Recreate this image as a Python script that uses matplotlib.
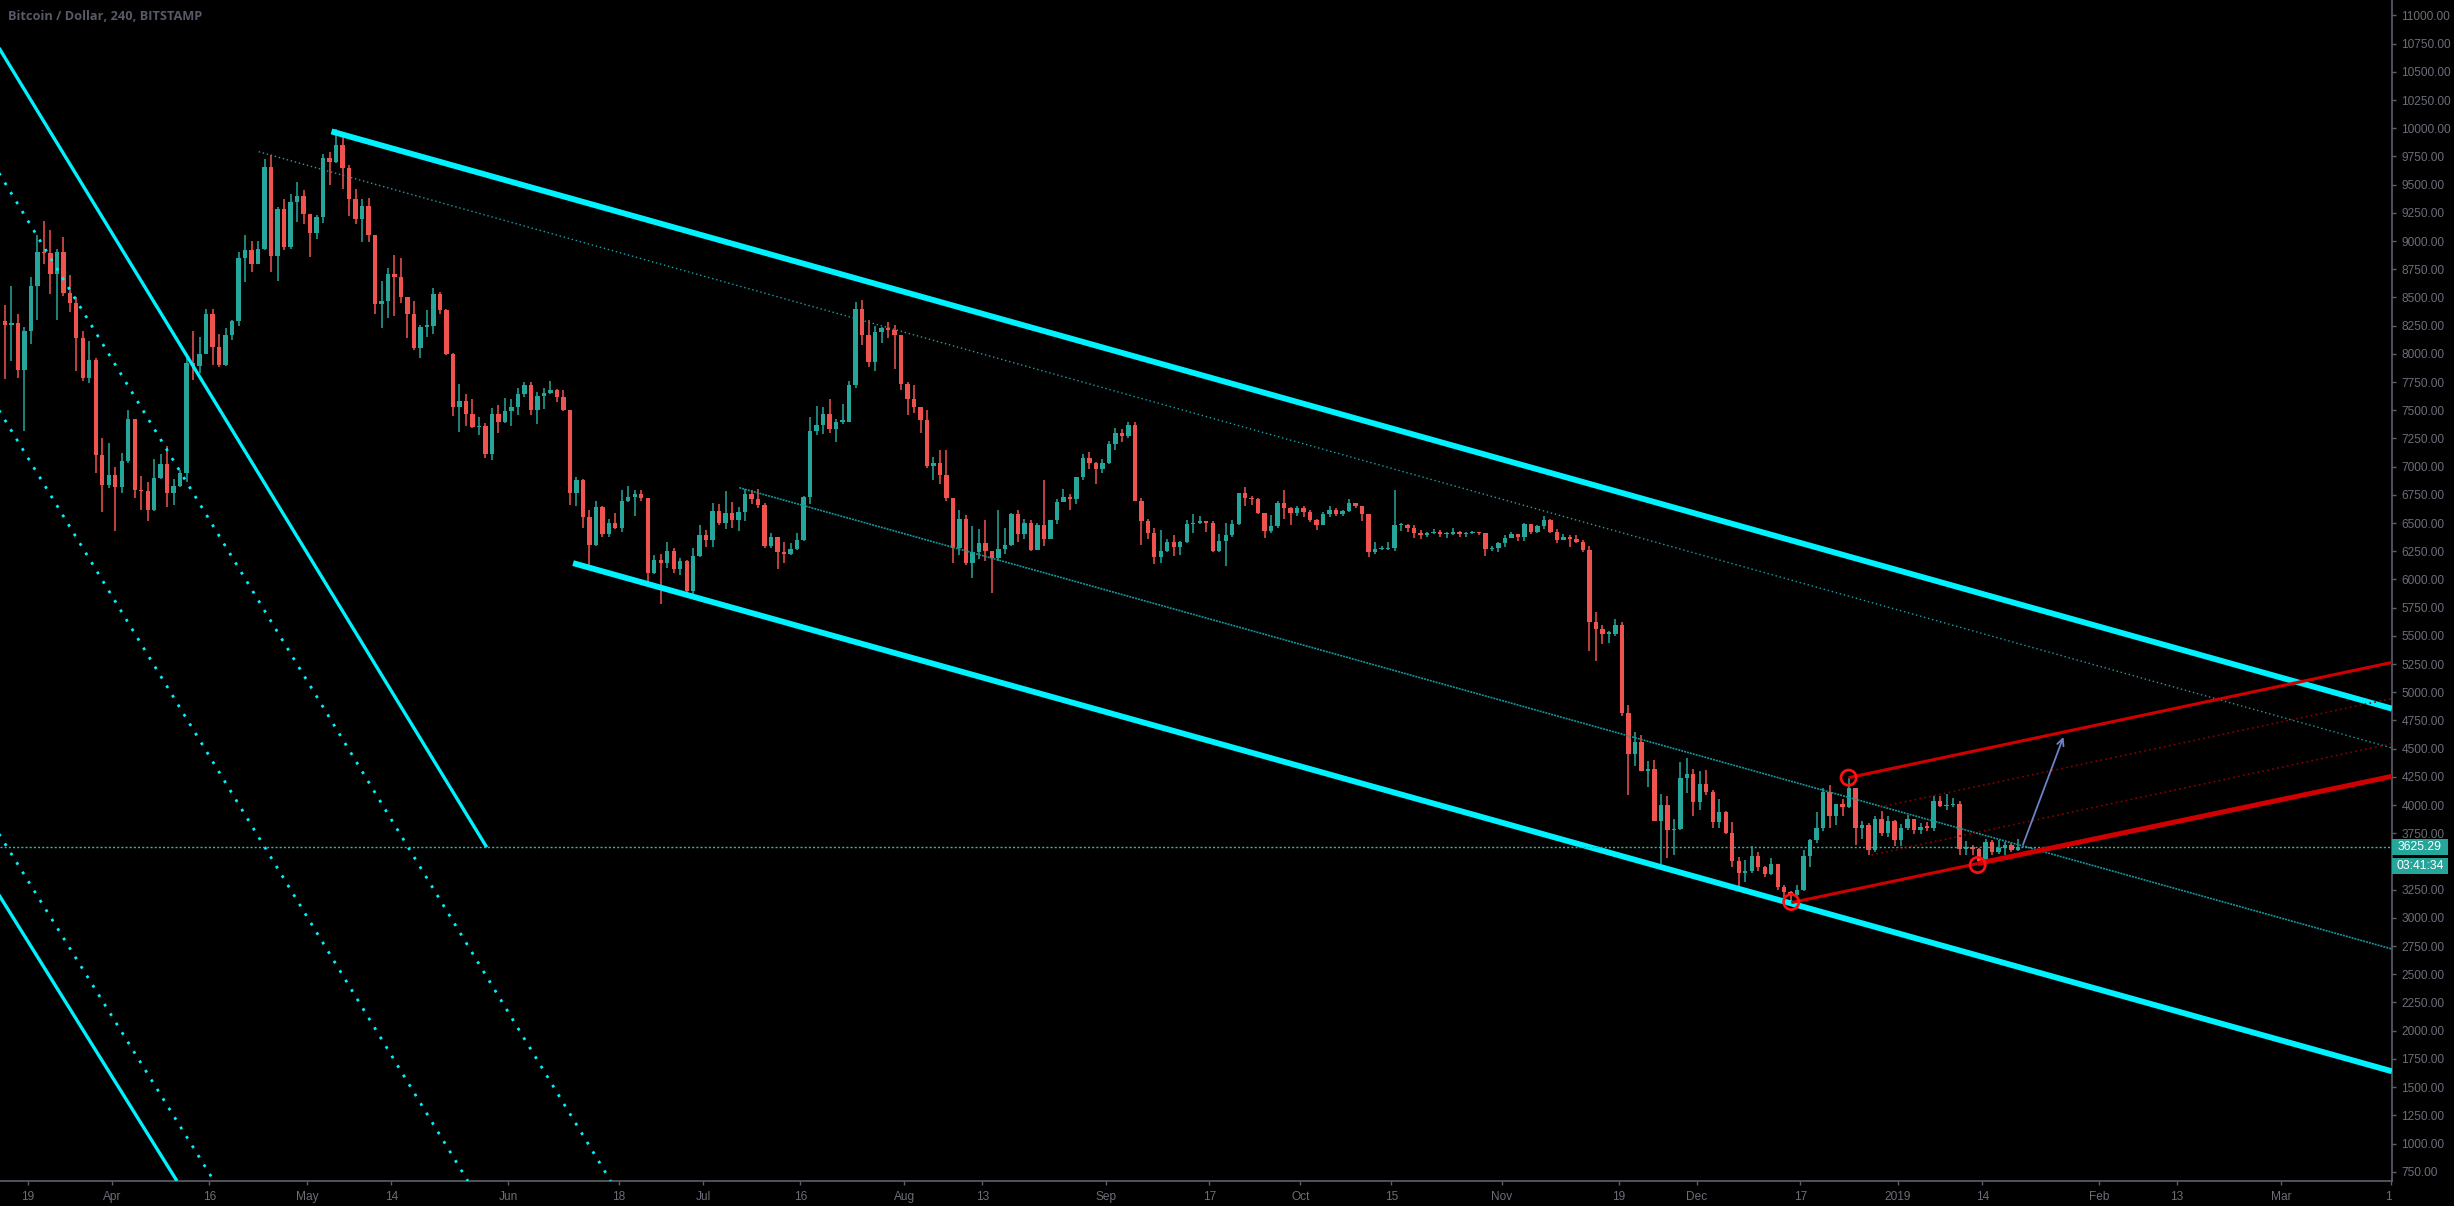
import matplotlib
matplotlib.use("Agg")
import matplotlib.pyplot as plt
import numpy as np
import pandas as pd
from matplotlib.patches import Rectangle
from matplotlib.transforms import blended_transform_factory, Bbox, TransformedBbox, IdentityTransform

# ---------------- data (daily High, Low, Close) ----------------
first_open = 8290.0
mar18 = [(8430, 7780, 8260), (8600, 7940, 8270), (8350, 7790, 7860), (8240, 7320, 8200),
         (8680, 8090, 8600), (9050, 8300, 8900), (9180, 8800, 8890), (9100, 8530, 8710),
         (8930, 8300, 8900), (9040, 8510, 8540), (8700, 8370, 8450), (8500, 7850, 8140),
         (8200, 7760, 7790), (8110, 7740, 7950), (7960, 6940, 7100), (7250, 6600, 6840),
         (7210, 6810, 6930)]
apr18 = [(7000, 6430, 6820), (7120, 6770, 7050), (7500, 7030, 7420), (7420, 6720, 6790),
         (6920, 6620, 6780), (6860, 6520, 6620), (7070, 6610, 6900), (7110, 6890, 7020),
         (7180, 6640, 6770), (6890, 6660, 6830), (6970, 6820, 6940), (8000, 6860, 7920),
         (8200, 7770, 7890), (8150, 7830, 8000), (8400, 8000, 8350), (8400, 7900, 8060),
         (8180, 7880, 7900), (8230, 7890, 8170), (8300, 8120, 8290), (8900, 8250, 8850),
         (9050, 8640, 8920), (9000, 8730, 8800), (9000, 8800, 8930), (9730, 8920, 9660),
         (9760, 8730, 8870), (9300, 8650, 9280), (9370, 8920, 8950), (9420, 8930, 9350),
         (9520, 9170, 9400), (9450, 9150, 9240)]
may18 = [(9240, 8860, 9070), (9230, 9020, 9210), (9770, 9160, 9740), (9790, 9500, 9700),
         (9990, 9690, 9850), (9940, 9460, 9650), (9670, 9220, 9370), (9460, 9150, 9200),
         (9370, 8990, 9310), (9380, 8990, 9050), (9050, 8350, 8440), (8650, 8230, 8470),
         (8760, 8320, 8710), (8880, 8340, 8680), (8850, 8450, 8500), (8500, 8140, 8350),
         (8470, 8030, 8050), (8260, 7960, 8240), (8390, 8150, 8250), (8580, 8180, 8530),
         (8550, 8350, 8390), (8400, 7990, 8000), (8010, 7450, 7530), (7730, 7310, 7580),
         (7640, 7360, 7470), (7600, 7340, 7350), (7440, 7280, 7360), (7390, 7080, 7110),
         (7520, 7060, 7470), (7550, 7300, 7400), (7610, 7390, 7490)]
jun18 = [(7600, 7360, 7530), (7700, 7460, 7640), (7750, 7620, 7720), (7750, 7460, 7500),
         (7660, 7380, 7630), (7700, 7510, 7650), (7760, 7640, 7680), (7690, 7570, 7620),
         (7680, 7490, 7500), (7500, 6660, 6770), (6910, 6650, 6880), (6890, 6460, 6550),
         (6620, 6120, 6310), (6700, 6300, 6640), (6650, 6380, 6400), (6540, 6380, 6500),
         (6590, 6450, 6460), (6790, 6420, 6700), (6830, 6690, 6730), (6790, 6560, 6760),
         (6790, 6700, 6720), (6720, 5980, 6060), (6220, 6050, 6170), (6230, 5780, 6150),
         (6330, 6100, 6250), (6280, 6060, 6090), (6190, 6040, 6160), (6170, 5860, 5900),
         (6280, 5830, 6210), (6480, 6200, 6390)]
jul18 = [(6440, 6290, 6350), (6680, 6290, 6610), (6670, 6480, 6500), (6780, 6450, 6590),
         (6690, 6460, 6530), (6640, 6430, 6600), (6800, 6520, 6760), (6790, 6670, 6710),
         (6800, 6630, 6660), (6680, 6280, 6300), (6410, 6280, 6380), (6380, 6090, 6240),
         (6330, 6150, 6230), (6320, 6220, 6270), (6410, 6260, 6350), (6740, 6340, 6730),
         (7440, 6670, 7320), (7540, 7280, 7370), (7530, 7290, 7470), (7600, 7300, 7330),
         (7420, 7220, 7400), (7560, 7380, 7400), (7760, 7400, 7720), (8460, 7700, 8400),
         (8480, 8080, 8170), (8300, 7880, 7930), (8250, 7850, 8190), (8240, 8100, 8230),
         (8280, 8140, 8210), (8260, 7870, 8170), (8170, 7680, 7730)]
aug18 = [(7750, 7460, 7600), (7720, 7480, 7530), (7530, 7300, 7410), (7500, 6990, 7010),
         (7090, 6880, 7030), (7150, 6850, 6930), (7150, 6700, 6720), (6720, 6150, 6280),
         (6620, 6220, 6540), (6570, 6130, 6150), (6470, 6010, 6240), (6450, 6180, 6320),
         (6530, 6160, 6250), (6250, 5880, 6190), (6620, 6160, 6270), (6460, 6230, 6310),
         (6590, 6300, 6580), (6620, 6330, 6400), (6540, 6360, 6500), (6530, 6250, 6260),
         (6500, 6260, 6480), (6880, 6300, 6360), (6530, 6370, 6530), (6710, 6490, 6690),
         (6800, 6690, 6730), (6760, 6620, 6710), (6910, 6670, 6910), (7110, 6880, 7080),
         (7130, 6980, 7030), (7040, 6850, 6980), (7070, 6940, 7030)]
sep18 = [(7230, 7020, 7200), (7340, 7150, 7300), (7330, 7220, 7270), (7400, 7250, 7370),
         (7400, 6700, 6700), (6720, 6310, 6520), (6540, 6360, 6410), (6460, 6140, 6200),
         (6440, 6150, 6250), (6360, 6240, 6330), (6390, 6210, 6290), (6340, 6220, 6330),
         (6530, 6320, 6490), (6580, 6410, 6500), (6560, 6490, 6520), (6520, 6420, 6500),
         (6520, 6240, 6250), (6400, 6240, 6340), (6500, 6120, 6390), (6530, 6380, 6490),
         (6770, 6480, 6770), (6820, 6650, 6720), (6740, 6660, 6710), (6720, 6580, 6590),
         (6590, 6370, 6430), (6570, 6410, 6470), (6700, 6460, 6680), (6790, 6540, 6630),
         (6640, 6480, 6590), (6650, 6560, 6630)]
oct18 = [(6650, 6550, 6600), (6620, 6510, 6530), (6540, 6440, 6480), (6600, 6480, 6580),
         (6650, 6550, 6620), (6630, 6560, 6580), (6620, 6560, 6610), (6710, 6600, 6680),
         (6680, 6630, 6650), (6650, 6520, 6580), (6580, 6200, 6240), (6330, 6230, 6270),
         (6300, 6260, 6270), (6330, 6260, 6280), (6790, 6250, 6480), (6500, 6430, 6480),
         (6490, 6420, 6460), (6480, 6370, 6410), (6440, 6360, 6390), (6420, 6380, 6410),
         (6450, 6400, 6420), (6440, 6380, 6400), (6420, 6370, 6400), (6460, 6390, 6420),
         (6430, 6380, 6400), (6420, 6380, 6410), (6430, 6400, 6420), (6420, 6390, 6410),
         (6410, 6210, 6270), (6300, 6250, 6280), (6330, 6240, 6320)]
nov18 = [(6390, 6290, 6370), (6420, 6370, 6400), (6400, 6340, 6380), (6500, 6340, 6490),
         (6490, 6400, 6420), (6480, 6410, 6470), (6560, 6450, 6530), (6540, 6410, 6420),
         (6450, 6320, 6350), (6400, 6350, 6380), (6390, 6290, 6360), (6390, 6320, 6330),
         (6350, 6240, 6260), (6300, 5370, 5620), (5710, 5280, 5560), (5600, 5430, 5520),
         (5540, 5440, 5520), (5650, 5500, 5600), (5620, 4790, 4820), (4890, 4090, 4450),
         (4650, 4350, 4560), (4620, 4300, 4300), (4390, 4160, 4320), (4400, 3860, 3860),
         (4100, 3480, 4000), (4080, 3530, 3780), (3880, 3560, 3790), (4380, 3780, 4240),
         (4420, 4110, 4280), (4320, 3900, 4030)]
dec18 = [(4300, 3960, 4190), (4310, 4090, 4120), (4130, 3800, 3850), (4050, 3800, 3940),
         (3950, 3740, 3750), (3850, 3450, 3500), (3540, 3260, 3400), (3510, 3320, 3420),
         (3640, 3400, 3550), (3580, 3420, 3450), (3460, 3360, 3390), (3530, 3380, 3480),
         (3480, 3250, 3270), (3290, 3180, 3230), (3240, 3122, 3200), (3290, 3190, 3250),
         (3600, 3240, 3550), (3700, 3450, 3690), (3940, 3660, 3800), (4150, 3770, 4120),
         (4180, 3800, 3900), (4010, 3820, 4010), (4050, 3900, 3980), (4240, 3970, 4150),
         (4150, 3650, 3800), (3860, 3700, 3820), (3840, 3560, 3600), (3900, 3580, 3880),
         (3950, 3730, 3750), (3900, 3720, 3860), (3870, 3640, 3690)]
jan19 = [(3830, 3640, 3800), (3910, 3780, 3880), (3880, 3740, 3780), (3840, 3740, 3810),
         (3850, 3770, 3800), (4080, 3770, 4040), (4080, 3980, 3990), (4100, 3960, 4000),
         (4060, 3980, 4010), (4040, 3560, 3610), (3680, 3560, 3630), (3650, 3560, 3610),
         (3620, 3480, 3500), (3700, 3490, 3670), (3690, 3560, 3580), (3690, 3570, 3620),
         (3670, 3560, 3650), (3660, 3580, 3600), (3700, 3590, 3625.29)]

last_price = 3625.29
countdown = "03:41:34"
title = "Bitcoin / Dollar, 240, BITSTAMP"

x_tick_dates = ['2018-03-19', '2018-04-01', '2018-04-16', '2018-05-01', '2018-05-14',
                '2018-06-01', '2018-06-18', '2018-07-01', '2018-07-16', '2018-08-01',
                '2018-08-13', '2018-09-01', '2018-09-17', '2018-10-01', '2018-10-15',
                '2018-11-01', '2018-11-19', '2018-12-01', '2018-12-17', '2019-01-01',
                '2019-01-14', '2019-02-01', '2019-02-13', '2019-03-01', '2019-03-18']
x_tick_labels = ['19', 'Apr', '16', 'May', '14', 'Jun', '18', 'Jul', '16', 'Aug', '13',
                 'Sep', '17', 'Oct', '15', 'Nov', '19', 'Dec', '17', '2019', '14', 'Feb',
                 '13', 'Mar', '18']
y_ticks = list(range(750, 11001, 250))
y_hidden = [3500]  # covered by the countdown box in the reference

# drawings: (date, price) anchors ("END" = right edge of plot)
channel_upper = [('2018-05-04 19:00', 9972), ('END', 4855)]
channel_lower = [('2018-06-11 00:00', 6145), ('END', 1640)]
channel_dotted = [('2018-04-23 14:00', 9792), ('END', 4506)]
channel_mid = [('2018-07-06 14:00', 6814), ('END', 2724)]
steep_solid_a = [('2018-03-13 18:00', 10792), ('2018-05-28 17:00', 3625)]
steep_dot_c = [('2018-03-13 18:00', 9683), ('2018-06-16 19:00', 668)]
steep_dot_d = [('2018-03-13 18:00', 7580), ('2018-05-25 19:00', 668)]
steep_dot_e = [('2018-03-13 18:00', 3823), ('2018-04-16 17:00', 668)]
steep_solid_b = [('2018-03-13 18:00', 3282), ('2018-04-11 00:00', 668)]
red_upper = [('2018-12-24 10:00', 4243), ('END', 5265)]
red_lower_thin = [('2018-12-15 14:00', 3135), ('2019-01-13 07:00', 3482)]
red_lower_thick = [('2019-01-13 07:00', 3482), ('END', 4255)]
red_dot_low = [('2018-12-27 22:00', 3557), ('END', 4545)]
red_dot_high = [('2018-12-29 07:00', 3983), ('END', 4945)]
arrow_pts = [('2019-01-20 07:00', 3652), ('2019-01-26 12:00', 4604)]
circles = [('2018-12-15 14:00', 3141), ('2018-12-24 10:00', 4243), ('2019-01-13 07:00', 3469)]

# ---------------- layout ----------------
W, H, DPI = 2454, 1206, 100
AX_R, AX_B = 2392, 1181
BASE = pd.Timestamp('2018-04-01')
X_LEFT, X_RIGHT = -112 / 6.494, (AX_R - 112) / 6.494
Y_LOW, Y_HIGH = 667.6, 11137.0


def dx(s):
    if s == 'END':
        return X_RIGHT
    return (pd.Timestamp(s) - BASE) / pd.Timedelta(days=1)


BG = '#000000'
AXC = '#5d606b'
TXT = '#6b6e79'
UP, DOWN = '#26a69a', '#ef5350'

plt.rcParams['font.family'] = ['Liberation Sans', 'DejaVu Sans']
fig = plt.figure(figsize=(W / DPI, H / DPI), dpi=DPI, facecolor=BG)
ax = fig.add_axes([0, 1 - AX_B / H, AX_R / W, AX_B / H])
ax.set_facecolor(BG)
ax.set_xlim(X_LEFT, X_RIGHT)
ax.set_ylim(Y_LOW, Y_HIGH)

# ---------------- candles ----------------
rows = mar18 + apr18 + may18 + jun18 + jul18 + aug18 + sep18 + oct18 + nov18 + dec18 + jan19
dates = pd.date_range('2018-03-15', periods=len(rows), freq='D')
highs = np.array([r[0] for r in rows], float)
lows = np.array([r[1] for r in rows], float)
closes = np.array([r[2] for r in rows], float)
opens = np.concatenate([[first_open], closes[:-1]])
xs = np.array([(d - BASE) / pd.Timedelta(days=1) for d in dates]) + 0.5
up = closes >= opens
cols = np.where(up, UP, DOWN)
ax.vlines(xs, lows, highs, colors=cols, linewidth=1.1, zorder=3)
bottoms = np.minimum(opens, closes)
heights = np.maximum(np.abs(closes - opens), 12)
ax.bar(xs, heights, bottom=bottoms, width=0.68, color=cols, linewidth=0, zorder=3)


def seg(pts, **kw):
    (a, pa), (b, pb) = pts
    ax.plot([dx(a), dx(b)], [pa, pb], **kw)


# ---------------- drawings ----------------
CY = '#00f2ff'
seg(channel_upper, color=CY, lw=4.2, solid_capstyle='butt', zorder=4)
seg(channel_lower, color=CY, lw=4.2, solid_capstyle='butt', zorder=4)
seg(channel_dotted, color='#1aa3ad', lw=1.0, ls=(0, (1, 2)), zorder=4)
seg(channel_mid, color='#16959b', lw=1.2, ls=(0, (1.2, 0.6)), zorder=4)
seg(steep_solid_a, color=CY, lw=2.4, solid_capstyle='butt', zorder=4)
seg(steep_solid_b, color=CY, lw=2.4, solid_capstyle='butt', zorder=4)
for pts in (steep_dot_c, steep_dot_d, steep_dot_e):
    seg(pts, color=CY, lw=2.0, ls=(0, (1, 3)), zorder=4)

ax.axhline(last_price, color='#2fb5aa', lw=1.0, ls=(0, (1.5, 1.5)), zorder=4)

RED = '#d10000'
seg(red_upper, color=RED, lw=2.2, solid_capstyle='butt', zorder=5)
seg(red_lower_thin, color=RED, lw=2.2, solid_capstyle='butt', zorder=5)
seg(red_lower_thick, color=RED, lw=3.6, solid_capstyle='butt', zorder=5)
seg(red_dot_low, color='#8a0000', lw=1.2, ls=(0, (1, 2)), zorder=5)
seg(red_dot_high, color='#8a0000', lw=1.2, ls=(0, (1, 2)), zorder=5)

cx = [dx(c[0]) for c in circles]
cyv = [c[1] for c in circles]
ax.scatter(cx, cyv, s=120, facecolors='none', edgecolors='#ff1010', linewidths=2.0, zorder=6)

(a0, p0), (a1, p1) = arrow_pts
ax.annotate('', xy=(dx(a1), p1), xytext=(dx(a0), p0),
            arrowprops=dict(arrowstyle='->', color='#6f82c8', lw=1.3,
                            mutation_scale=12, shrinkA=0, shrinkB=0), zorder=6)

# ---------------- axes styling ----------------
for s in ('top', 'left'):
    ax.spines[s].set_visible(False)
for s in ('right', 'bottom'):
    ax.spines[s].set_color(AXC)
    ax.spines[s].set_linewidth(1.2)

ax.yaxis.tick_right()
ax.set_yticks(y_ticks)
ax.set_yticklabels(['' if v in y_hidden else f"{v:.2f}" for v in y_ticks])
ax.tick_params(axis='y', colors=AXC, labelcolor=TXT, direction='out', length=3.2,
               width=1, pad=3.5, labelsize=8.6)

ax.set_xticks([dx(d) for d in x_tick_dates])
ax.set_xticklabels(x_tick_labels)
ax.tick_params(axis='x', colors=AXC, labelcolor=TXT, direction='out', length=2.8,
               width=1, pad=4.5, labelsize=8.6)
clipbox = TransformedBbox(Bbox([[0, 0], [AX_R, H]]), IdentityTransform())
lab = ax.get_xticklabels()[-1]
lab.set_clip_on(True)
lab.set_clip_box(clipbox)

# title
fig.text(8 / W, 1 - 17 / H, title, color='#565a66', fontsize=9.2, va='center', ha='left',
         fontweight='bold', family=['Open Sans', 'DejaVu Sans'])

# price label boxes on the axis
tr = blended_transform_factory(fig.transFigure, ax.transData)
ppx = (Y_HIGH - Y_LOW) / AX_B  # price per pixel
bx0, bw = AX_R / W, 56 / W
fig.add_artist(Rectangle((bx0, last_price - 7.5 * ppx), bw, 15.5 * ppx, transform=tr,
                         facecolor='#26a69a', edgecolor='none', zorder=10))
fig.text(bx0 + bw / 2, last_price, f"{last_price:.2f}", transform=tr, color='white',
         fontsize=8.8, ha='center', va='center', zorder=11)
tb_top = last_price - 10.5 * ppx
fig.add_artist(Rectangle((bx0, tb_top - 16.5 * ppx), bw, 16.5 * ppx, transform=tr,
                         facecolor='#26a69a', edgecolor='none', zorder=10))
fig.text(bx0 + bw / 2, tb_top - 8.25 * ppx, countdown, transform=tr, color='white',
         fontsize=8.8, ha='center', va='center', zorder=11)

fig.savefig('out.png', dpi=DPI, facecolor=BG)
